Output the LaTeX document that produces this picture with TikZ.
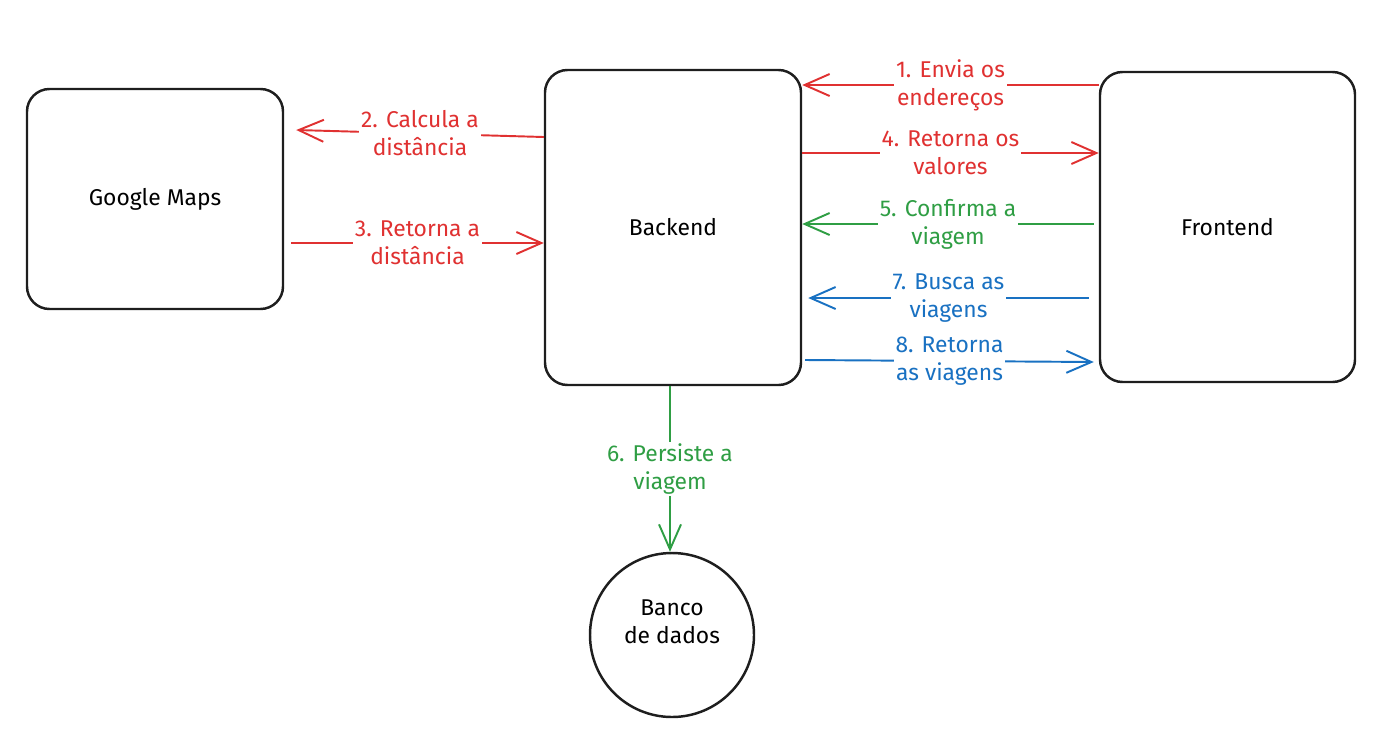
\documentclass[tikz,border=0pt]{standalone}
\usepackage{fontspec}
\setmainfont{Fira Sans}
\usetikzlibrary{arrows.meta}

\definecolor{inkblack}{HTML}{1E1E1E}
\definecolor{flowred}{HTML}{E03131}
\definecolor{flowgreen}{HTML}{2F9E44}
\definecolor{flowblue}{HTML}{1971C2}

\begin{document}
\begin{tikzpicture}[
        box/.style={draw=inkblack, line width=1.4pt, rounded corners=0.45cm,
            minimum width=5.12cm, minimum height=#1, font=\fontsize{13}{16}\selectfont},
        dbcircle/.style={draw=inkblack, line width=1.4pt, circle, minimum size=3.28cm,
            align=center, font=\fontsize{13}{16}\selectfont},
        flow/.style={draw=#1, text=#1, line width=1.1pt,
            -{Straight Barb[length=5mm, width=4.4mm, line width=1.1pt]}},
        lbl/.style={midway, fill=white, align=center, inner sep=1pt,
            font=\fontsize{13}{15.9}\selectfont}
    ]
        \useasboundingbox (0, 0) rectangle (27.74, -14.74);

        % systems
        \node[box=4.4cm] (maps) at (3.10, -3.98) {Google Maps};
        \node[box=6.3cm] (back) at (13.46, -4.55) {Backend};
        \node[box=6.2cm, minimum width=5.1cm] (front) at (24.55, -4.54) {Frontend};
        \node[dbcircle] (db) at (13.44, -12.70) {Banco\\de dados\\[-0.04cm]};

        % red: distance calculation
        \draw[flow=flowred] (front.west |- 0, -1.70) -- (back.east |- 0, -1.70)
            node[lbl] {1. Envia os\\endereços};
        \draw[flow=flowred] (back.west |- 0, -2.74) -- ([xshift=0.24cm] maps.east |- 0, -2.60)
            node[lbl] {2. Calcula a\\distância};
        \draw[flow=flowred] ([xshift=0.14cm] maps.east |- 0, -4.86) -- (back.west |- 0, -4.86)
            node[lbl] {3. Retorna a\\distância};
        \draw[flow=flowred] (back.east |- 0, -3.06) -- (front.west |- 0, -3.06)
            node[lbl] {4. Retorna os\\valores};

        % green: trip confirmation
        \draw[flow=flowgreen] ([xshift=-0.1cm] front.west |- 0, -4.48) -- (back.east |- 0, -4.48)
            node[lbl] {5. Confirma a\\viagem};
        \draw[flow=flowgreen] ([xshift=-0.06cm] back.south) -- ([xshift=-0.04cm] db.north)
            node[lbl] {6. Persiste a\\viagem};

        % blue: trip listing
        \draw[flow=flowblue] ([xshift=-0.2cm] front.west |- 0, -5.96) -- ([xshift=0.12cm] back.east |- 0, -5.96)
            node[lbl] {7. Busca as\\viagens};
        \draw[flow=flowblue] ([xshift=0.06cm] back.east |- 0, -7.20) -- ([xshift=-0.1cm] front.west |- 0, -7.24)
            node[lbl] {8. Retorna\\as viagens};
    \end{tikzpicture}
\end{document}
